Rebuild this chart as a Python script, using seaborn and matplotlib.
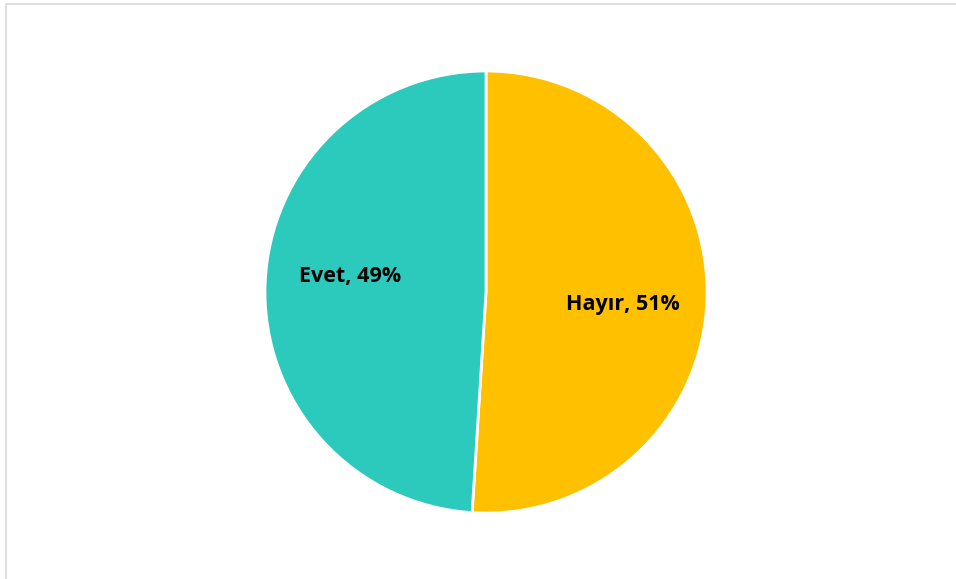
import matplotlib
matplotlib.use("Agg")
import matplotlib.pyplot as plt
import seaborn as sns
from matplotlib.patches import Rectangle

categories = ["Hayır", "Evet"]
values = [51, 49]
colors = ["#FFC000", "#2BCABD"]

sns.set_theme(style="white")
plt.rcParams['font.family'] = ['Open Sans', 'DejaVu Sans']

fig = plt.figure(figsize=(9.56, 5.79), dpi=100)
fig.patches.append(Rectangle((6/956, -0.05), 1.1, 1 - 4/579 + 0.05, transform=fig.transFigure,
                             fill=False, edgecolor="#D9D9D9", linewidth=1.2))
ax = fig.add_axes([265/956, 66/579, 442/956, 442/579])

labels = [f"{c}, {v}%" for c, v in zip(categories, values)]
wedges, texts = ax.pie(values, labels=labels, colors=colors, startangle=90, counterclock=False,
                       labeldistance=0.62, radius=1.0,
                       wedgeprops=dict(edgecolor="white", linewidth=2),
                       textprops=dict(fontsize=15.5, fontweight="bold", color="black",
                                      ha="center", va="center"))
# Excel "best fit" label placement nudges
label_pos = [(0.62, -0.055), (-0.615, 0.072)]
for t, p in zip(texts, label_pos):
    t.set_horizontalalignment("center")
    t.set_position(p)
ax.set_xlim(-1, 1)
ax.set_ylim(-1, 1)
ax.set_aspect("equal")
ax.axis("off")
fig.savefig("out.png", dpi=100)
